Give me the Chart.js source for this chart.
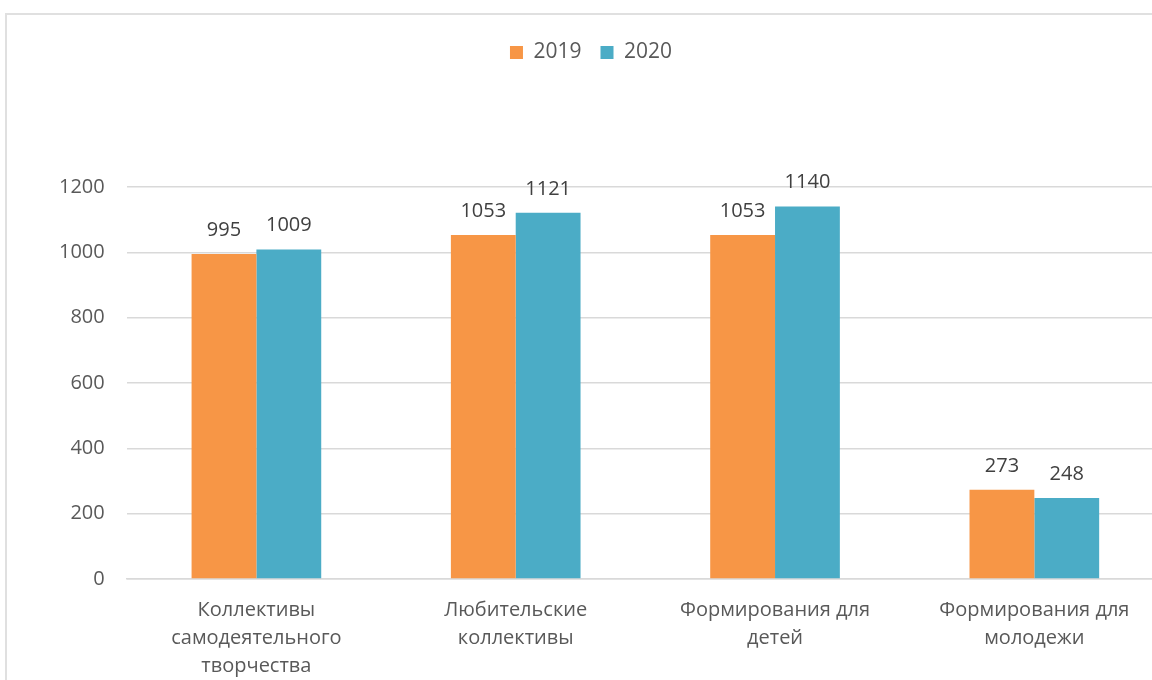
<!DOCTYPE html>
<html>
<head>
<meta charset="utf-8">
<script src="https://cdn.jsdelivr.net/npm/chart.js@4"></script>
<style>
  html, body { margin: 0; padding: 0; background: #fff; overflow: hidden; width: 1152px; height: 680px; }
  #frame { position: absolute; left: 5px; top: 13px; width: 1172px; height: 700px; border: 2px solid #e0e0e0; box-sizing: border-box; }
  #wrap { position: absolute; left: 5px; top: 13px; width: 1172px; height: 700px; }
</style>
</head>
<body>
<div id="frame"></div>
<div id="wrap"><canvas id="myChart" width="1172" height="700"></canvas></div>
<script>
const categories = [
    ['Коллективы', 'самодеятельного', 'творчества'],
    ['Любительские', 'коллективы'],
    ['Формирования для', 'детей'],
    ['Формирования для', 'молодежи']
];
const values2019 = [995, 1053, 1053, 273];
const values2020 = [1009, 1121, 1140, 248];
const yTicks = [0, 200, 400, 600, 800, 1000, 1200];

const FONT = "'Open Sans', 'Noto Sans', sans-serif";

// legend sits high, the plot starts well below it
const legendSpacer = {
    id: 'legendSpacer',
    beforeInit(chart) {
        const fit = chart.legend.fit;
        chart.legend.fit = function () {
            fit.bind(chart.legend)();
            this.height = 164;
        };
    },
    afterLayout(chart) {
        // center legend on the whole frame, not the padded box
        const lg = chart.legend;
        const shift = chart.width / 2 - (lg.left + lg.right) / 2;
        lg.left += shift;
        lg.right += shift;
        lg.adjustHitBoxes();
    }
};

// value labels above the bars
const barValues = {
    id: 'barValues',
    afterDatasetsDraw(chart) {
        const ctx = chart.ctx;
        ctx.save();
        ctx.font = '20px ' + FONT;
        ctx.fillStyle = '#404040';
        ctx.textAlign = 'center';
        ctx.textBaseline = 'bottom';
        chart.data.datasets.forEach((ds, i) => {
            chart.getDatasetMeta(i).data.forEach((bar, j) => {
                ctx.fillText(ds.data[j], bar.x, bar.y - 14);
            });
        });
        ctx.restore();
    }
};

const data = {
    labels: categories,
    datasets: [{
        label: '2019',
        backgroundColor: '#F79646',
        data: values2019
    }, {
        label: '2020',
        backgroundColor: '#4BACC6',
        data: values2020
    }]
};

const config = {
    type: 'bar',
    data: data,
    options: {
        responsive: false,
        animation: false,
        categoryPercentage: 0.5,
        barPercentage: 1.0,
        layout: { padding: { top: 10, left: 32, right: 13, bottom: 16 } },
        plugins: {
            legend: {
                position: 'top',
                align: 'center',
                labels: {
                    font: { family: FONT, size: 21 },
                    color: '#595959',
                    boxWidth: 13,
                    boxHeight: 13,
                    padding: 19
                }
            },
            tooltip: { enabled: false }
        },
        scales: {
            x: {
                grid: { display: false, drawTicks: false },
                border: { display: true, color: '#d9d9d9', width: 1.5 },
                ticks: {
                    font: { family: FONT, size: 20, lineHeight: 1.4 },
                    color: '#595959',
                    padding: 17,
                    maxRotation: 0,
                    autoSkip: false
                }
            },
            y: {
                min: 0,
                max: 1200,
                afterBuildTicks(scale) {
                    scale.ticks = yTicks.map(v => ({ value: v }));
                },
                grid: { color: '#d9d9d9', lineWidth: 1.5, drawTicks: false },
                border: { display: false },
                ticks: {
                    font: { family: FONT, size: 20 },
                    color: '#595959',
                    padding: 22,
                    callback: v => String(v)
                }
            }
        }
    },
    plugins: [legendSpacer, barValues]
};

const myChart = new Chart(document.getElementById('myChart'), config);
</script>
</body>
</html>
